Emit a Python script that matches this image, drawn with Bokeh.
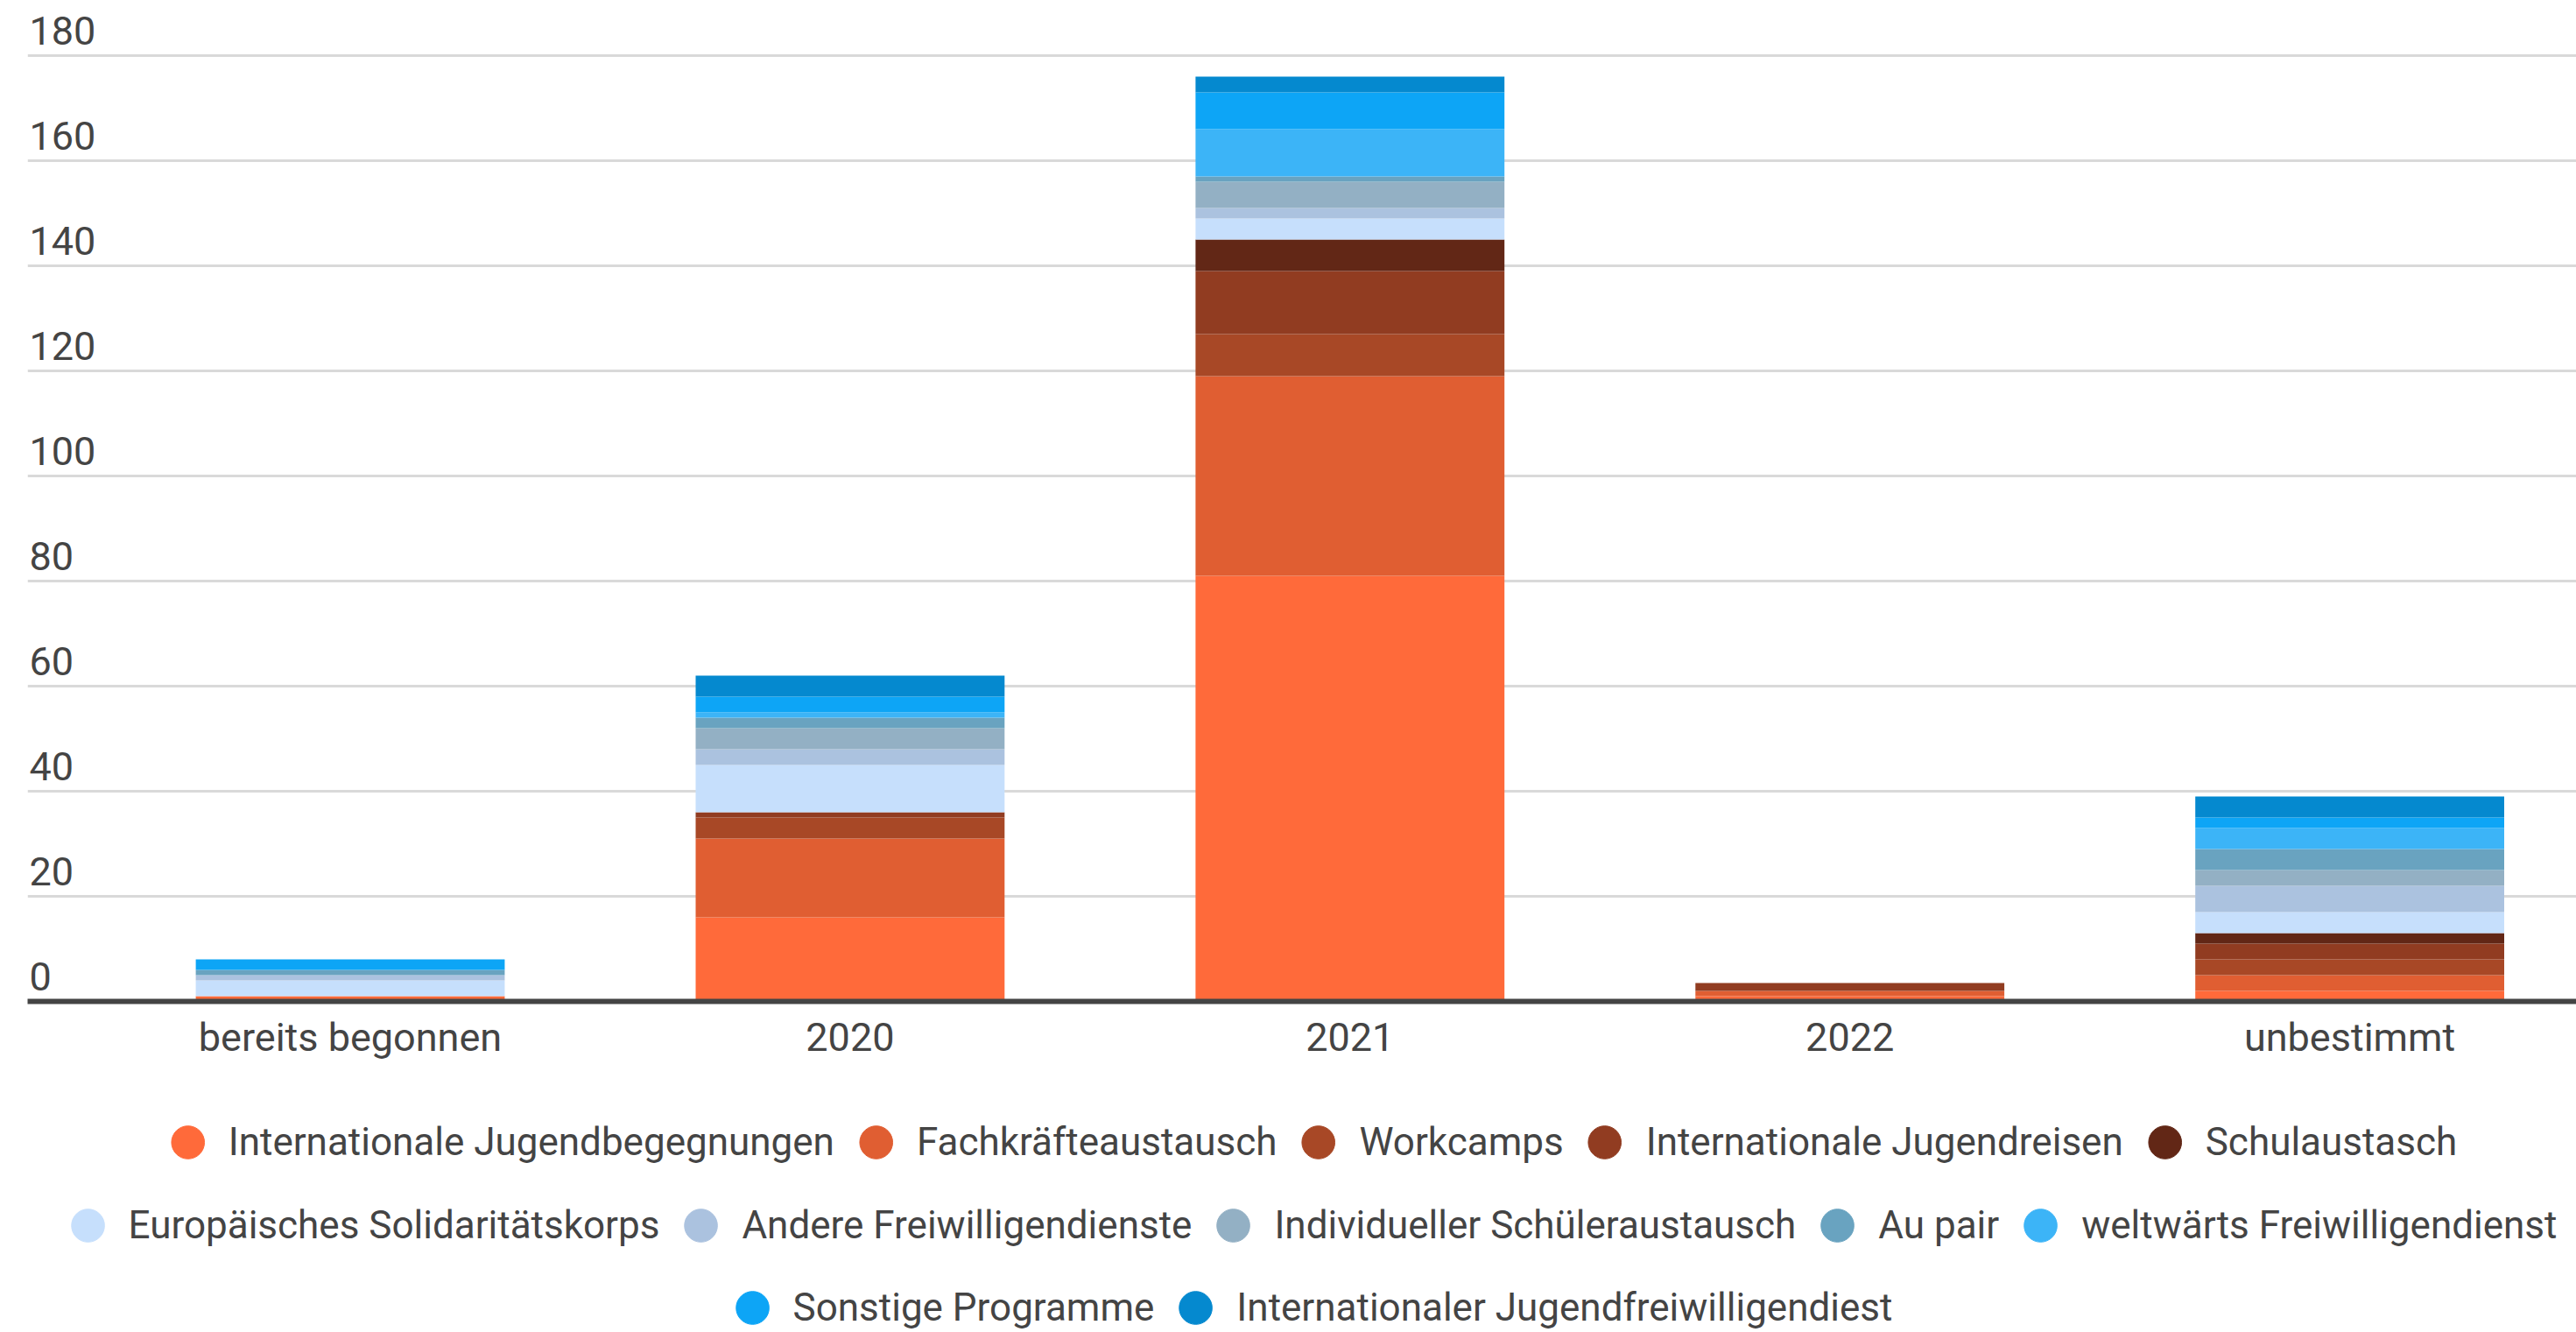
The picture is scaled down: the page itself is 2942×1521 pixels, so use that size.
from bokeh.plotting import figure
from bokeh.layouts import column
from bokeh.models import (ColumnDataSource, Range1d, FixedTicker, Legend, LegendItem,
                          Label, Grid)
from bokeh.embed import file_html
from bokeh.resources import INLINE

# ---------------- data ----------------
categories = ["bereits begonnen", "2020", "2021", "2022", "unbestimmt"]

series_names = [
    "Internationale Jugendbegegnungen",
    "Fachkräfteaustausch",
    "Workcamps",
    "Internationale Jugendreisen",
    "Schulaustasch",
    "Europäisches Solidaritätskorps",
    "Andere Freiwilligendienste",
    "Individueller Schüleraustausch",
    "Au pair",
    "weltwärts Freiwilligendienst",
    "Sonstige Programme",
    "Internationaler Jugendfreiwilligendiest",
]

internationale_jugendbegegnungen = [1, 16, 81, 1, 2]
fachkraefteaustausch = [0, 15, 38, 1, 3]
workcamps = [0, 4, 8, 0, 3]
internationale_jugendreisen = [0, 1, 12, 1.5, 3]
schulaustausch = [0, 0, 6, 0, 2]
europaeisches_solidaritaetskorps = [3, 9, 4, 0, 4]
andere_freiwilligendienste = [1, 3, 2, 0, 5]
individueller_schueleraustausch = [0, 4, 5, 0, 3]
au_pair = [1, 2, 1, 0, 4]
weltwaerts = [0, 1, 9, 0, 4]
sonstige_programme = [2, 3, 7, 0, 2]
internationaler_jugendfreiwilligendienst = [0, 4, 3, 0, 4]

series_values = [
    internationale_jugendbegegnungen, fachkraefteaustausch, workcamps,
    internationale_jugendreisen, schulaustausch, europaeisches_solidaritaetskorps,
    andere_freiwilligendienste, individueller_schueleraustausch, au_pair,
    weltwaerts, sonstige_programme, internationaler_jugendfreiwilligendienst,
]

colors = [
    "#FF6A3A", "#E05E32", "#A84826", "#913C21", "#622716", "#C6DFFC",
    "#ABC2DF", "#93B0C4", "#69A3C0", "#3CB4F7", "#0DA5F6", "#0589CF",
]

y_ticks = [0, 20, 40, 60, 80, 100, 120, 140, 160, 180]
legend_rows = [(0, 5), (5, 10), (10, 12)]

# ---------------- styling ----------------
FONT = "Roboto"
TEXT = "#444444"
FS = "45px"
LEG_FS = "44px"
WIDTH = 2942

X_START, X_END = -0.6455, 4.4535
Y_END = 190.5

p = figure(width=WIDTH, height=1213, output_backend="svg", toolbar_location=None,
           x_range=Range1d(X_START, X_END), y_range=Range1d(0, Y_END),
           y_axis_location=None, min_border_left=31, min_border_right=0,
           min_border_top=0, min_border_bottom=70, outline_line_color=None,
           background_fill_color="white", border_fill_color="white")
p.grid.visible = False

xs = list(range(len(categories)))
keys = [f"s{i}" for i in range(len(series_names))]
data = {"x": xs}
for k, v in zip(keys, series_values):
    data[k] = v
src = ColumnDataSource(data)

p.add_layout(Grid(dimension=1, ticker=FixedTicker(ticks=y_ticks),
                  grid_line_color="#d9d9d9", grid_line_width=3), "center")

p.vbar_stack(keys, x="x", width=0.618, source=src, fill_color=colors, line_color=None)

# x axis
ax = p.xaxis[0]
ax.ticker = FixedTicker(ticks=xs)
ax.major_label_overrides = {i: c for i, c in zip(xs, categories)}
ax.major_label_text_font = FONT
ax.major_label_text_font_size = FS
ax.major_label_text_color = TEXT
ax.major_label_standoff = 14
ax.axis_line_color = "#444444"
ax.axis_line_width = 6
ax.major_tick_line_color = None
ax.minor_tick_line_color = None
ax.major_tick_out = 0
ax.major_tick_in = 0

# y tick labels, above the gridlines
for t in y_ticks:
    p.add_layout(Label(x=X_START, y=t, text=str(t), x_offset=2, y_offset=29,
                       text_font=FONT, text_font_size=FS, text_color=TEXT,
                       text_baseline="middle", text_align="left"))

# ---------------- legend (separate panel below) ----------------
lg = figure(width=WIDTH, height=308, output_backend="svg", toolbar_location=None,
            x_range=Range1d(0, 1), y_range=Range1d(0, 1),
            x_axis_location=None, y_axis_location=None,
            min_border_left=31, min_border_right=0, min_border_top=0,
            min_border_bottom=0, outline_line_color=None,
            background_fill_color="white", border_fill_color="white")
lg.grid.visible = False

nan = float("nan")
dummies = [lg.scatter(x=[nan], y=[nan], marker="circle", fill_color=c, line_color=c)
           for c in colors]
row_margins = [37, 132, 226]
for (a, b), m in zip(legend_rows, row_margins):
    items = [LegendItem(label=series_names[i], renderers=[dummies[i]]) for i in range(a, b)]
    leg = Legend(items=items, orientation="horizontal", location="top_center",
                 glyph_width=94, glyph_height=108, label_standoff=0, spacing=0,
                 label_text_font=FONT, label_text_font_size=LEG_FS, label_text_color=TEXT,
                 border_line_color=None, background_fill_alpha=0, margin=m, padding=0)
    lg.add_layout(leg, "center")

open("out.html", "w").write(file_html(column(p, lg, spacing=0), INLINE))
